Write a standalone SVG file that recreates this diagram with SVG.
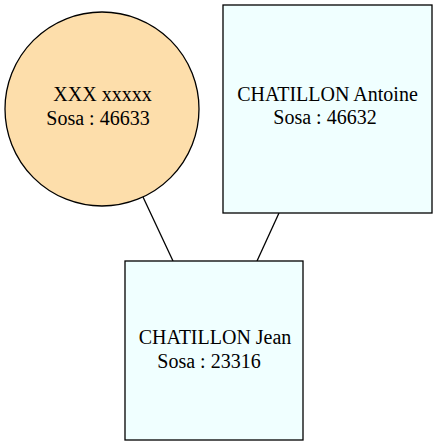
<svg xmlns="http://www.w3.org/2000/svg" width="437" height="445" viewBox="0 0 437 445">
<style>
.n{stroke:#000;stroke-width:1.3}
.box{fill:#f0ffff}
.circ{fill:#fddeab}
.e{stroke:#000;stroke-width:1.3;fill:none}
.t{font-family:'Liberation Serif','Times New Roman',serif;font-size:20px;fill:#000;text-anchor:middle}
</style>
<rect width="437" height="445" fill="#fff"/>
<g id="edges">
<line class="e" x1="143" y1="197" x2="173" y2="261"/>
<line class="e" x1="279" y1="213" x2="257" y2="261"/>
</g>
<g id="node-xxx">
<circle class="n circ" cx="102" cy="109" r="97"/>
<text class="t" x="102.5" y="101">XXX xxxxx</text>
<text class="t" x="98" y="125">Sosa : 46633</text>
</g>
<g id="node-antoine">
<rect class="n box" x="223" y="5" width="209" height="208"/>
<text class="t" x="327.5" y="101">CHATILLON Antoine</text>
<text class="t" x="325" y="124">Sosa : 46632</text>
</g>
<g id="node-jean">
<rect class="n box" x="125" y="261" width="178" height="179"/>
<text class="t" x="215" y="344">CHATILLON Jean</text>
<text class="t" x="209" y="368">Sosa : 23316</text>
</g>
</svg>
